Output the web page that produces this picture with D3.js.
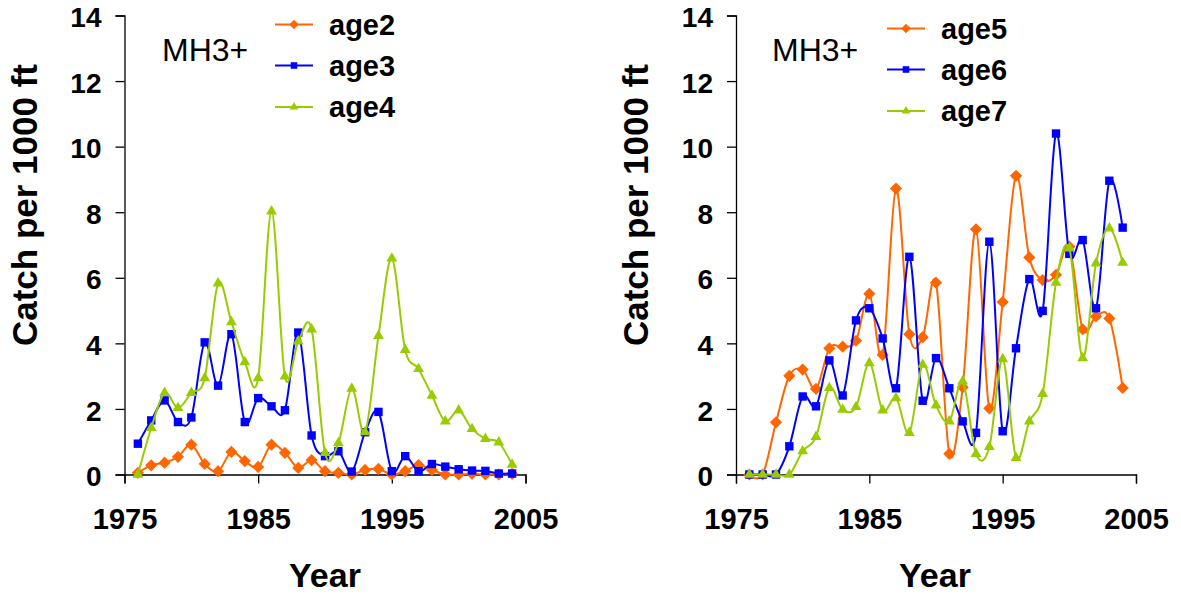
<!DOCTYPE html>
<html>
<head>
<meta charset="utf-8">
<script src="https://cdn.jsdelivr.net/npm/d3@7"></script>
<style>
  body { margin: 0; background: #fff; }
  svg { display: block; font-family: "Liberation Sans", Arial, sans-serif; }
</style>
</head>
<body>
<div id="container"></div>
<script>
const width = 1181;
const height = 596;

// Survey years
const years = d3.range(1976, 2005);

// Left panel: ages 2-4
const age2 = [0.05, 0.28, 0.36, 0.54, 0.91, 0.32, 0.1, 0.69, 0.41, 0.23, 0.91, 0.66, 0.2, 0.44, 0.1,
  0.05, 0.0, 0.14, 0.17, 0.0, 0.1, 0.29, 0.14, 0.0, 0.0, 0.02, 0.0, 0.0, 0.02];
const age3 = [0.94, 1.65, 2.26, 1.6, 1.74, 4.03, 2.71, 4.28, 1.6, 2.33, 2.08, 1.96, 4.33, 1.19, 0.56,
  0.71, 0.09, 1.29, 1.91, 0.1, 0.56, 0.1, 0.32, 0.24, 0.16, 0.12, 0.11, 0.03, 0.03];
const age4 = [0.0, 1.42, 2.49, 2.03, 2.49, 2.94, 5.83, 4.65, 3.43, 2.94, 8.03, 2.99, 4.06, 4.43, 0.66,
  0.96, 2.62, 1.29, 4.23, 6.59, 3.8, 3.22, 2.41, 1.62, 1.96, 1.39, 1.09, 0.98, 0.3];

// Right panel: ages 5-7
const age5 = [0.0, 0.0, 1.59, 3.01, 3.2, 2.61, 3.85, 3.9, 4.08, 5.51, 3.65, 8.72, 4.28, 4.19, 5.85,
  0.63, 2.66, 7.48, 2.02, 5.26, 9.11, 6.62, 5.93, 6.09, 6.95, 4.43, 4.82, 4.76, 2.64];
const age6 = [0.0, 0.0, 0.0, 0.86, 2.38, 2.08, 3.48, 2.41, 4.7, 5.07, 4.15, 2.63, 6.64, 2.25, 3.55,
  2.63, 1.62, 1.27, 7.1, 1.32, 3.85, 5.96, 4.99, 10.4, 6.73, 7.15, 5.07, 8.96, 7.53];
const age7 = [0.0, 0.0, 0.0, 0.0, 0.71, 1.15, 2.64, 1.98, 2.06, 3.4, 1.96, 2.33, 1.27, 3.35, 2.11,
  1.62, 2.84, 0.63, 0.84, 3.52, 0.51, 1.62, 2.46, 5.85, 6.9, 3.55, 6.44, 7.51, 6.46];

const xTicks = [1975, 1985, 1995, 2005];
const yTicks = [0, 2, 4, 6, 8, 10, 12, 14];

const colours = ["#FF6600", "#0000FF", "#99CC00"];
const symbols = [d3.symbolDiamond2, d3.symbolSquare2, d3.symbolTriangle2];
const symbolSizes = [95, 90, 85];
const legendSizes = [60, 55, 55];

const svg = d3
  .select("#container")
  .append("svg")
  .attr("width", width)
  .attr("height", height);

const y = d3.scaleLinear().domain([0, 14]).range([474.5, 15.5]);

function drawPanel(left, right, names, series, legendX, legendY, mhX, titleX) {
  const x = d3.scaleLinear().domain([1975, 2005]).range([left, right]);
  const g = svg.append("g");

  // y axis
  const yAxis = d3.axisLeft(y).tickValues(yTicks).tickSize(9).tickPadding(14);
  const ya = g.append("g").attr("transform", `translate(${left},0)`).call(yAxis);
  ya.select(".domain").attr("stroke", "#000").attr("stroke-width", 1.3);
  ya.selectAll(".tick line").attr("stroke-width", 1.3);
  ya.selectAll("text")
    .attr("font-size", 28)
    .attr("font-weight", "bold")
    .attr("fill", "#000")
    .attr("dy", "0.4em")
    .attr("font-family", "Liberation Sans, Arial, sans-serif");

  // x axis
  const xAxis = d3.axisBottom(x).tickValues(xTicks).tickFormat(d3.format("d")).tickSize(9).tickPadding(25);
  const xa = g.append("g").attr("transform", `translate(0,${y(0)})`).call(xAxis);
  xa.select(".domain").attr("stroke", "#000").attr("stroke-width", 1.3);
  xa.selectAll(".tick line").attr("stroke-width", 1.3);
  xa.selectAll("text")
    .attr("font-size", 29)
    .attr("font-weight", "bold")
    .attr("fill", "#000")
    .attr("font-family", "Liberation Sans, Arial, sans-serif");

  // axis titles
  g.append("text")
    .attr("x", titleX)
    .attr("y", 587)
    .attr("text-anchor", "middle")
    .attr("font-size", 34)
    .attr("font-weight", "bold")
    .text("Year");

  g.append("text")
    .attr("transform", `translate(${left - 88},205) rotate(-90)`)
    .attr("text-anchor", "middle")
    .attr("font-size", 35)
    .attr("font-weight", "bold")
    .text("Catch per 1000 ft");

  g.append("text")
    .attr("x", mhX)
    .attr("y", 61)
    .attr("font-size", 32)
    .text("MH3+");

  // smoothed series with markers
  const line = d3
    .line()
    .x((d, i) => x(years[i]))
    .y((d) => y(d))
    .curve(d3.curveCardinal.tension(0));

  series.forEach((values, k) => {
    g.append("path")
      .attr("d", line(values))
      .attr("fill", "none")
      .attr("stroke", colours[k])
      .attr("stroke-width", 2);

    g.selectAll(null)
      .data(values)
      .enter()
      .append("path")
      .attr("transform", (d, i) => `translate(${x(years[i])},${y(d)})`)
      .attr("d", d3.symbol().type(symbols[k]).size(symbolSizes[k]))
      .attr("fill", colours[k]);
  });

  // legend
  names.forEach((name, k) => {
    const ly = legendY[k];
    const lg = g.append("g").attr("transform", `translate(${legendX},${ly})`);
    lg.append("line")
      .attr("x1", 0)
      .attr("x2", 38)
      .attr("stroke", colours[k])
      .attr("stroke-width", 2);
    lg.append("path")
      .attr("transform", "translate(19,0)")
      .attr("d", d3.symbol().type(symbols[k]).size(legendSizes[k]))
      .attr("fill", colours[k]);
    lg.append("text")
      .attr("x", 54)
      .attr("y", 10)
      .attr("font-size", 29)
      .attr("font-weight", "bold")
      .text(name);
  });
}

drawPanel(124.5, 525.5, ["age2", "age3", "age4"], [age2, age3, age4], 275, [24.5, 65.5, 107], 162, 325);
drawPanel(736, 1136, ["age5", "age6", "age7"], [age5, age6, age7], 887, [28.5, 69.5, 111], 772, 935);
</script>
</body>
</html>
